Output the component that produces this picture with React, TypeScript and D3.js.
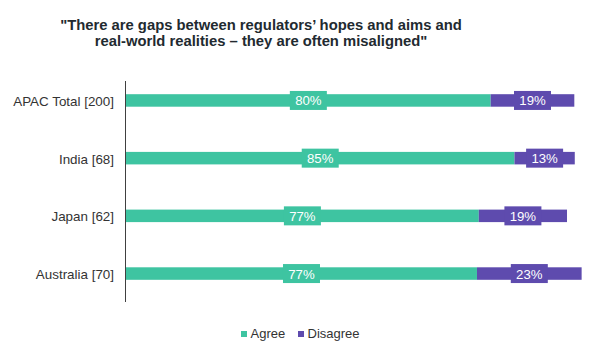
import React from "react";
import * as d3 from "d3";

const categories = ["APAC Total [200]", "India [68]", "Japan [62]", "Australia [70]"];
const agreeValues = [79.8, 85.0, 77.2, 76.8];
const disagreeValues = [18.3, 13.2, 19.3, 22.9];
const agreeLabels = ["80%", "85%", "77%", "77%"];
const disagreeLabels = ["19%", "13%", "19%", "23%"];
const seriesNames = ["Agree", "Disagree"];
const titleLines = [
  "\"There are gaps between regulators\u2019 hopes and aims and",
  "real-world realities \u2013 they are often misaligned\"",
];

const W = 600;
const H = 356;
const AGREE = "#3ec4a1";
const DISAGREE = "#5e4bae";
const FONT = "'Liberation Sans', Arial, sans-serif";

export default function App() {
  const x = d3.scaleLinear().domain([0, 100]).range([126, 583]);
  const y = d3.scaleBand<string>().domain(categories).range([71.6, 302.4]);
  const barH = 12.5;
  const boxH = 19;
  const boxW = 37;
  const colors = [AGREE, DISAGREE];

  return (
    <svg width={W} height={H} style={{ position: "absolute", left: 0, top: 0, background: "#fff" }} fontFamily={FONT}>
      {titleLines.map((t, i) => (
        <text key={i} x={261} y={29.5 + i * 16.8} textAnchor="middle" fontSize={14.8} fontWeight="bold" fill="#222a30">
          {t}
        </text>
      ))}
      {categories.map((c, i) => {
        const cy = (y(c) as number) + y.bandwidth() / 2;
        const x0 = x(0);
        const x1 = x(agreeValues[i]);
        const x2 = x(agreeValues[i] + disagreeValues[i]);
        const segs = [
          { a: x0, b: x1, label: agreeLabels[i], color: AGREE },
          { a: x1, b: x2, label: disagreeLabels[i], color: DISAGREE },
        ];
        return (
          <g key={c}>
            <text x={114} y={cy + 5.5} textAnchor="end" fontSize={13.4} fill="#333">
              {c}
            </text>
            {segs.map((s, j) => (
              <rect key={"r" + j} x={s.a} y={cy - barH / 2} width={s.b - s.a} height={barH} fill={s.color} />
            ))}
            {segs.map((s, j) => {
              const mx = (s.a + s.b) / 2;
              return (
                <g key={"l" + j}>
                  <rect x={mx - boxW / 2} y={cy - boxH / 2} width={boxW} height={boxH} fill={s.color} />
                  <text x={mx} y={cy + 5} textAnchor="middle" fontSize={13.2} fill="#fff">
                    {s.label}
                  </text>
                </g>
              );
            })}
          </g>
        );
      })}
      <line x1={125.5} x2={125.5} y1={81} y2={302} stroke="#404040" strokeWidth={1} />
      {seriesNames.map((n, i) => {
        const lx = i === 0 ? 241 : 298;
        return (
          <g key={n}>
            <rect x={lx} y={331} width={6} height={6} fill={colors[i]} />
            <text x={lx + 9.5} y={337.5} fontSize={13} fill="#333">
              {n}
            </text>
          </g>
        );
      })}
    </svg>
  );
}
